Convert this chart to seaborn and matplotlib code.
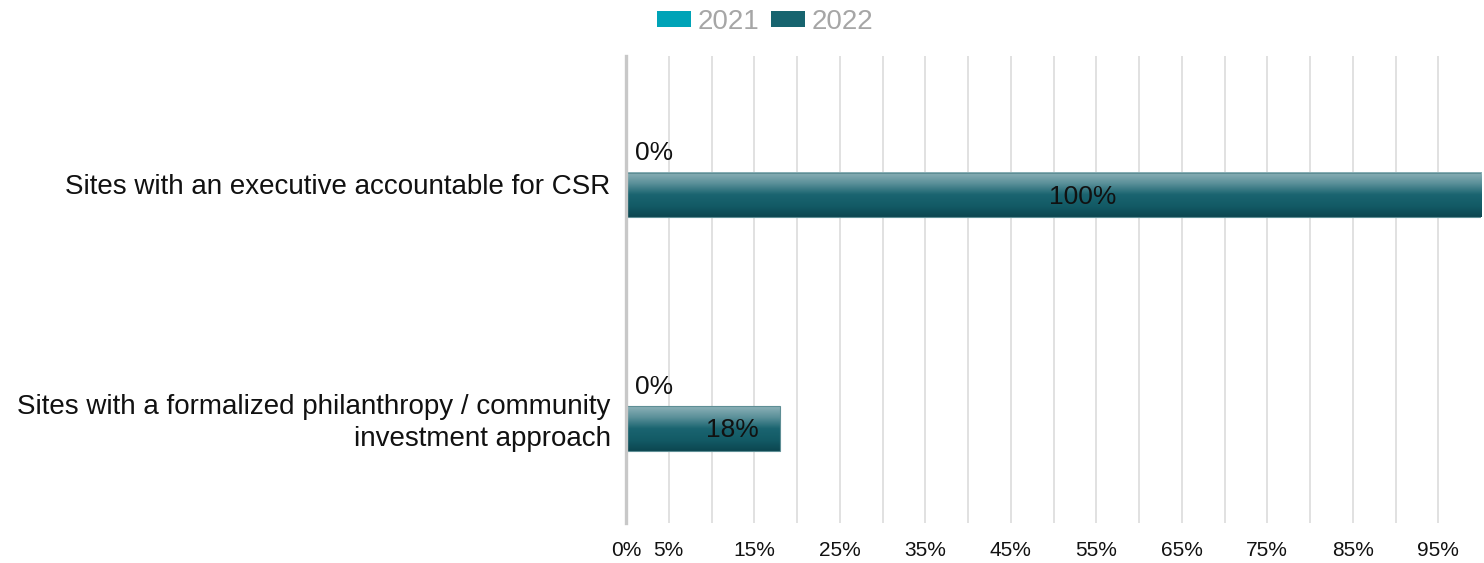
import numpy as np
import pandas as pd
import matplotlib
matplotlib.use("Agg")
import matplotlib.pyplot as plt
import matplotlib.transforms as mtransforms
from matplotlib.colors import LinearSegmentedColormap
import seaborn as sns

categories = [
    "Sites with an executive accountable for CSR",
    "Sites with a formalized philanthropy / community\ninvestment approach",
]
years = ["2021", "2022"]
values_2021 = [0, 0]
values_2022 = [100, 18]
tick_values = list(range(0, 100, 5))
tick_labels = ["0%", "5%"] + ["" if v % 10 == 0 else f"{v}%" for v in range(10, 100, 5)]

colors = {"2021": "#00A3B7", "2022": "#17646F"}

df = pd.DataFrame({
    "category": categories * 2,
    "year": ["2021"] * len(categories) + ["2022"] * len(categories),
    "value": values_2021 + values_2022,
})

sns.set_theme(style="white")
plt.rcParams["font.family"] = ["Liberation Sans", "DejaVu Sans"]

fig = plt.figure(figsize=(14.84, 5.63), dpi=100)
ax = fig.add_axes([626 / 1484, 1 - 523 / 563, 855 / 1484, 467 / 563])

sns.barplot(data=df, y="category", x="value", hue="year", hue_order=years,
            palette=colors, orient="h", width=0.38, dodge=True, ax=ax,
            linewidth=0, saturation=1)

# Shaded fill for the 2022 bars
grad = LinearSegmentedColormap.from_list(
    "bar_shade", ["#8DB2B8", "#5A9099", "#1A6470", "#135B66", "#0C4650"])
shade = np.linspace(0, 1, 128).reshape(-1, 1)
n_cat = len(categories)
bars_2022 = ax.patches[n_cat:2 * n_cat]
for patch in bars_2022:
    x0, y0 = patch.get_x(), patch.get_y()
    w, h = patch.get_width(), patch.get_height()
    if w <= 0:
        continue
    patch.set_facecolor("none")
    patch.set_edgecolor("#5E8E95")
    patch.set_linewidth(0.8)
    ax.imshow(shade, cmap=grad, aspect="auto", origin="upper",
              extent=(x0, x0 + w, y0 + h, y0), zorder=patch.get_zorder() - 0.1,
              interpolation="bilinear")

# Value labels
bars_2021 = ax.patches[0:n_cat]
for patch, v in zip(bars_2021, values_2021):
    yc = patch.get_y() + patch.get_height() / 2
    ax.text(v + 1, yc + 0.012, f"{v}%", ha="left", va="center", fontsize=19, color="#111111")
for patch, v in zip(bars_2022, values_2022):
    yc = patch.get_y() + patch.get_height() / 2
    ax.text(v / 2 + 3.4, yc + 0.008, f"{v}%", ha="center", va="center", fontsize=19,
            color="#111111")

ax.set_xlim(0, 100)
ax.set_ylim(n_cat - 0.5, -0.5)
ax.set_xticks(tick_values)
ax.set_xticklabels(tick_labels)
ax.xaxis.grid(True, color="#DCDCDC", linewidth=1.2)
ax.set_axisbelow(True)
ax.set_xlabel("")
ax.set_ylabel("")

for side in ["top", "right", "bottom"]:
    ax.spines[side].set_visible(False)
ax.spines["left"].set_color("#C8C8C8")
ax.spines["left"].set_linewidth(2.4)
ax.spines["left"].set_zorder(5)

ax.tick_params(axis="x", length=0, pad=13, labelsize=15, labelcolor="#111111")
ax.tick_params(axis="y", length=0, pad=11, labelsize=20, labelcolor="#111111")
for lab in ax.get_yticklabels():
    lab.set_horizontalalignment("right")
    lab.set_multialignment("right")
    lab.set_linespacing(1.3)
    lab.set_transform(lab.get_transform() +
                      mtransforms.ScaledTranslation(0, -11 / 100, fig.dpi_scale_trans))

sns.move_legend(ax, "center", bbox_to_anchor=(0.1626, 1.073), ncol=2, frameon=False,
                title=None, fontsize=20, handlelength=1.22, handleheight=0.5,
                handletextpad=0.25, columnspacing=0.4, labelcolor="#A6A6A6")

fig.savefig("out.png", dpi=100)
